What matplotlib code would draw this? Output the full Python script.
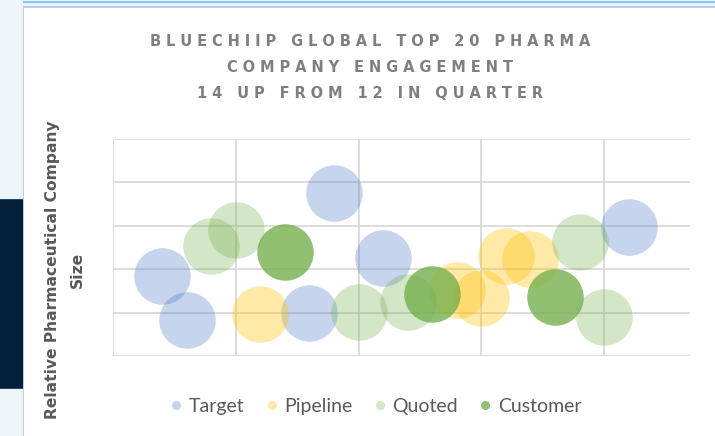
import matplotlib
matplotlib.use("Agg")
import matplotlib.pyplot as plt
from matplotlib.patches import Rectangle
from matplotlib.lines import Line2D

# ---------------- data ----------------
series_names = ["Target", "Pipeline", "Quoted", "Customer"]
target_x = [2, 3, 8, 9, 11, 21]
target_y = [1.85, 0.82, 0.98, 3.75, 2.26, 2.97]
pipeline_x = [6, 14, 15, 16, 17]
pipeline_y = [0.97, 1.53, 1.33, 2.30, 2.23]
quoted_x = [4, 5, 10, 12, 19, 20]
quoted_y = [2.53, 2.90, 1.02, 1.25, 2.63, 0.91]
customer_x = [7, 13, 18]
customer_y = [2.39, 1.43, 1.36]
x_ticks = [0, 5, 10, 15, 20]
y_ticks = [0, 1, 2, 3, 4, 5]
title_lines = ["BLUECHIIP GLOBAL TOP 20 PHARMA", "COMPANY ENGAGEMENT", "14 UP FROM 12 IN QUARTER"]
y_label = "Relative Pharmaceutical Company\nSize"

# ---------------- figure ----------------
W, H = 715, 436
DPI = 100
fig = plt.figure(figsize=(W / DPI, H / DPI), dpi=DPI, facecolor="white")

def fx(px):
    return px / W

def fy(py):
    return 1 - py / H

def rect(x0, y0, x1, y1, color, z=0):
    r = Rectangle((fx(x0), fy(y1)), fx(x1) - fx(x0), fy(y0) - fy(y1),
                  transform=fig.transFigure, facecolor=color, edgecolor="none",
                  zorder=z)
    fig.add_artist(r)

# background decorations
rect(0, 0, 22.5, H, "#eef5f8", -5)
rect(0, 199, 22.5, 389, "#02203a", -4)
rect(0, 199, 22.5, 200.2, "#1d4a70", -3)
rect(0, 387.8, 22.5, 389, "#1d4a70", -3)
rect(22.5, 0, W, 7, "#e8eff5", -5)
rect(22.5, 1.2, W, 3.0, "#7cc8f8", -4)
rect(22.5, 6.2, W, 8.0, "#bccde9", -3)
rect(22.5, 6.2, 24.3, H, "#bccde9", -3)

# ---------------- axes ----------------
ax = fig.add_axes([fx(113), fy(356), fx(690) - fx(113), fy(139) - fy(356)])
ax.set_facecolor("none")
ax.set_xlim(0, 23.5)
ax.set_ylim(0, 5)
ax.set_xticks(x_ticks)
ax.set_yticks(y_ticks)
ax.tick_params(length=0, labelbottom=False, labelleft=False)
for s in ax.spines.values():
    s.set_visible(False)
ax.grid(True, color="#d9d9d9", linewidth=1.3, zorder=0)
ax.set_axisbelow(True)

bubble_px = 56.5
s = (bubble_px * 72 / DPI) ** 2

col_target = ("#4472C4", 0.30)
col_pipeline = ("#FFC000", 0.35)
col_quoted = ("#70AD47", 0.30)
col_customer = ("#70AD47", 0.76)

ax.scatter(target_x, target_y, s=s, color=col_target[0], alpha=col_target[1], linewidths=0, zorder=2, clip_on=False)
ax.scatter(pipeline_x, pipeline_y, s=s, color=col_pipeline[0], alpha=col_pipeline[1], linewidths=0, zorder=3, clip_on=False)
ax.scatter(quoted_x, quoted_y, s=s, color=col_quoted[0], alpha=col_quoted[1], linewidths=0, zorder=4, clip_on=False)
ax.scatter(customer_x, customer_y, s=s, color=col_customer[0], alpha=col_customer[1], linewidths=0, zorder=5, clip_on=False)

# ---------------- title ----------------
SEP = "\u2004"
spaced = "\n".join(SEP.join(list(line)) for line in title_lines)
fig.text(fx(370), fy(67.5), spaced, ha="center", va="center", multialignment="center",
         fontsize=10.5, fontweight="bold", color="#7f7f7f",
         family=["DejaVu Sans"], linespacing=1.9)

# ---------------- y label ----------------
fig.text(fx(65), fy(269.5), y_label, rotation=90, ha="center", va="center",
         multialignment="center", fontsize=11.2, fontweight="bold", color="#595959",
         family=["DejaVu Sans"], linespacing=1.75)

# ---------------- legend ----------------
handles = []
for name, (c, a) in zip(series_names, [col_target, col_pipeline, col_quoted, col_customer]):
    handles.append(Line2D([], [], linestyle="none", marker="o", markersize=6.5,
                          markerfacecolor=c, markeredgecolor="none", alpha=a,
                          label=name))
leg = fig.legend(handles=handles, loc="center", bbox_to_anchor=(fx(376), fy(406.5)),
                 ncol=4, frameon=False, handlelength=0.6, handletextpad=0.35,
                 columnspacing=1.1, borderaxespad=0,
                 prop={"family": ["Lato", "DejaVu Sans"], "size": 14})
for t in leg.get_texts():
    t.set_color("#595959")

fig.savefig("out.png", dpi=DPI, facecolor="white")
